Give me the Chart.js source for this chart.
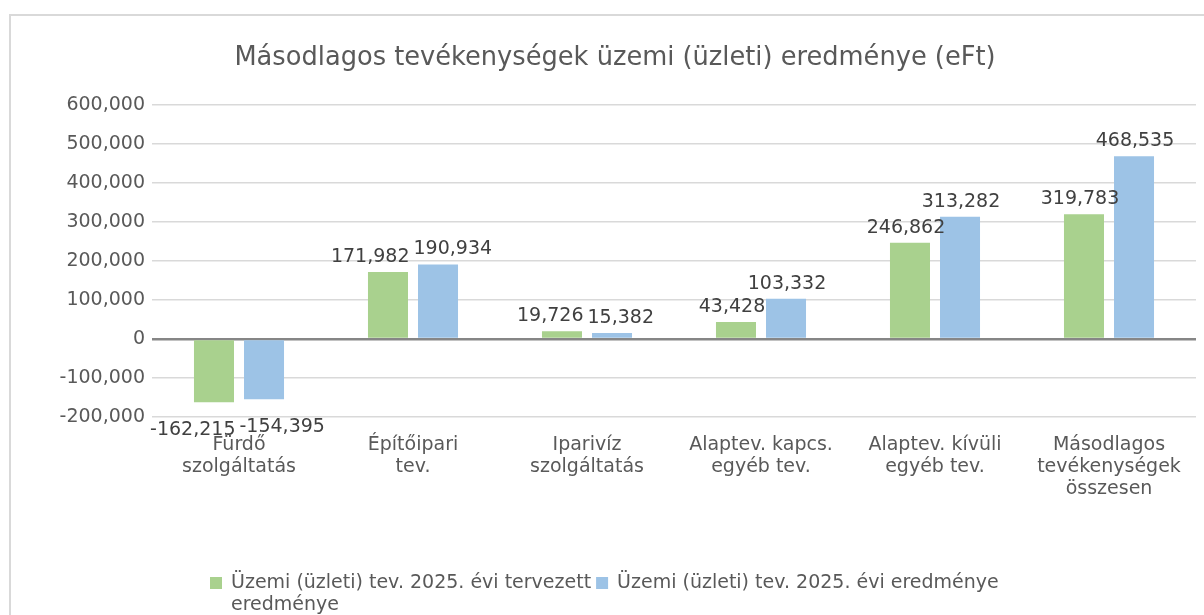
<!DOCTYPE html>
<html>
<head>
<meta charset="utf-8">
<script src="https://cdn.jsdelivr.net/npm/chart.js@4.4.1/dist/chart.umd.min.js"></script>
<style>
  html, body { margin: 0; padding: 0; background: #fff; }
  canvas { display: block; }
</style>
</head>
<body>
<canvas id="resultChart" width="1204" height="615"></canvas>
<script>
// Data
const categories = [
  ["Fürdő", "szolgáltatás"],
  ["Építőipari", "tev."],
  ["Iparivíz", "szolgáltatás"],
  ["Alaptev. kapcs.", "egyéb tev."],
  ["Alaptev. kívüli", "egyéb tev."],
  ["Másodlagos", "tevékenységek", "összesen"],
];
const plannedValues = [-162215, 171982, 19726, 43428, 246862, 319783];
const actualValues = [-154395, 190934, 15382, 103332, 313282, 468535];
const seriesLabels = [
  "Üzemi (üzleti) tev. 2025. évi tervezett eredménye",
  "Üzemi (üzleti) tev. 2025. évi eredménye",
];
const yMin = -200000;
const yMax = 600000;
const yStep = 100000;

const FONT = "'DejaVu Sans', 'Open Sans', sans-serif";
const fmt = new Intl.NumberFormat("en-US");

// chart frame
const framePlugin = {
  id: "frame",
  beforeDraw(chart) {
    const ctx = chart.ctx;
    ctx.save();
    ctx.strokeStyle = "#d9d9d9";
    ctx.lineWidth = 2;
    ctx.strokeRect(10, 15, 1400, 800);
    ctx.restore();
  },
};

// value labels at the bar ends, pushed apart when a pair collides
const valueLabels = {
  id: "valueLabels",
  afterDatasetsDraw(chart) {
    const ctx = chart.ctx;
    const h = 18;
    ctx.save();
    ctx.font = "19px " + FONT;
    ctx.fillStyle = "#404040";
    ctx.textAlign = "center";
    ctx.textBaseline = "middle";
    const metaA = chart.getDatasetMeta(0);
    const metaB = chart.getDatasetMeta(1);
    chart.data.labels.forEach((_, i) => {
      const items = [metaA, metaB].map((meta, di) => {
        const v = chart.data.datasets[di].data[i];
        const bar = meta.data[i];
        const text = fmt.format(v);
        return {
          text,
          x: bar.x + (di === 0 ? -4 : 1),
          y: v >= 0 ? bar.y - 15 : bar.y + 28,
          w: ctx.measureText(text).width,
        };
      });
      const [a, b] = items;
      const need = (a.w + b.w) / 2 + 4;
      if (Math.abs(a.y - b.y) < h && b.x - a.x < need) {
        const push = (need - (b.x - a.x)) / 2;
        a.x -= push;
        b.x += push;
      }
      items.forEach((it) => ctx.fillText(it.text, it.x, it.y));
    });
    ctx.restore();
  },
};

// legend at the bottom, wrapping like the original
const bottomLegend = {
  id: "bottomLegend",
  afterDraw(chart) {
    const ctx = chart.ctx;
    const maxWidths = [375, 460];
    let x = 210;
    const y0 = 583;
    const lineH = 22;
    ctx.save();
    ctx.font = "19px " + FONT;
    ctx.textBaseline = "middle";
    chart.data.datasets.forEach((ds, di) => {
      ctx.fillStyle = ds.backgroundColor;
      ctx.fillRect(x, y0 - 6, 12, 12);
      const tx = x + 21;
      const words = ds.label.split(" ");
      const lines = [];
      let cur = "";
      words.forEach((w) => {
        const test = cur ? cur + " " + w : w;
        if (ctx.measureText(test).width > maxWidths[di] && cur) {
          lines.push(cur);
          cur = w;
        } else {
          cur = test;
        }
      });
      lines.push(cur);
      ctx.fillStyle = "#595959";
      let widest = 0;
      lines.forEach((line, li) => {
        ctx.fillText(line, tx, y0 + li * lineH);
        widest = Math.max(widest, ctx.measureText(line).width);
      });
      x = tx + widest + 5;
    });
    ctx.restore();
  },
};

const ctx = document.getElementById("resultChart").getContext("2d");
const resultChart = new Chart(ctx, {
  type: "bar",
  data: {
    labels: categories,
    datasets: [
      {
        label: seriesLabels[0],
        data: plannedValues,
        backgroundColor: "#a9d18e",
        categoryPercentage: 0.575,
        barPercentage: 0.8,
      },
      {
        label: seriesLabels[1],
        data: actualValues,
        backgroundColor: "#9dc3e6",
        categoryPercentage: 0.575,
        barPercentage: 0.8,
      },
    ],
  },
  options: {
    responsive: false,
    animation: false,
    layout: {
      padding: { left: 34, right: 8, top: 0, bottom: 0 },
    },
    plugins: {
      legend: { display: false },
      tooltip: { enabled: false },
      title: {
        display: true,
        text: "Másodlagos tevékenységek üzemi (üzleti) eredménye (eFt)",
        color: "#595959",
        font: { family: FONT, size: 25.7, weight: "normal", lineHeight: "30px" },
        padding: { top: 43, bottom: 32 },
      },
    },
    scales: {
      x: {
        grid: { display: false },
        border: { display: false },
        ticks: {
          color: "#595959",
          font: { family: FONT, size: 19, lineHeight: "22px" },
          padding: 9,
          maxRotation: 0,
          autoSkip: false,
        },
        afterFit(scale) {
          scale.height = 198;
        },
      },
      y: {
        min: yMin,
        max: yMax,
        border: { display: false },
        grid: {
          drawTicks: false,
          color: (c) => (c.tick && c.tick.value === 0 ? "#868686" : "#d9d9d9"),
          lineWidth: (c) => (c.tick && c.tick.value === 0 ? 2.5 : 1.5),
        },
        ticks: {
          stepSize: yStep,
          color: "#595959",
          font: { family: FONT, size: 19 },
          padding: 7,
          callback: (v) => fmt.format(v),
        },
        afterFit(scale) {
          scale.width = 118;
        },
      },
    },
  },
  plugins: [framePlugin, valueLabels, bottomLegend],
});
</script>
</body>
</html>
